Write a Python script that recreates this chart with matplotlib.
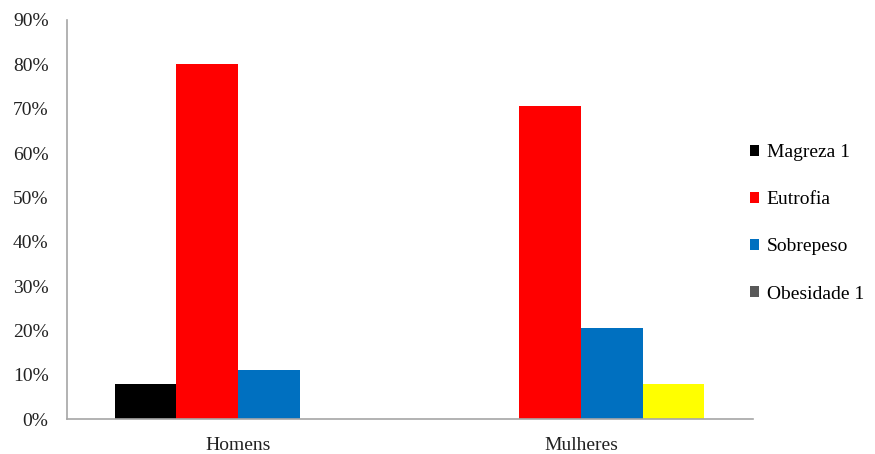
import matplotlib.pyplot as plt
from matplotlib.patches import Patch
from matplotlib.ticker import FuncFormatter
import numpy as np

groups = ['Homens', 'Mulheres']
categories = ['Magreza 1', 'Eutrofia', 'Sobrepeso', 'Obesidade 1']
magreza = [7.9, 0.0]
eutrofia = [80.0, 70.5]
sobrepeso = [11.1, 20.6]
obesidade = [0.0, 7.9]

bar_colors = ['#000000', '#FF0000', '#0070C0', '#FFFF00']
legend_colors = ['#000000', '#FF0000', '#0070C0', '#595959']

plt.rcParams['font.family'] = ['Liberation Serif', 'DejaVu Serif']

fig = plt.figure(figsize=(8.75, 4.54), dpi=100)
ax = fig.add_axes([0.0762, 0.0764, 0.7838, 0.8796])

x = np.arange(len(groups))
width = 0.18
series = [magreza, eutrofia, sobrepeso, obesidade]
for i, values in enumerate(series):
    ax.bar(x + (i - 1.5) * width, values, width, color=bar_colors[i], linewidth=0)

ax.set_xlim(-0.5, 1.5)
ax.set_ylim(0, 90)
ax.set_yticks(np.arange(0, 91, 10))
ax.yaxis.set_major_formatter(FuncFormatter(lambda v, _: f'{int(v)}%'))
ax.set_xticks(x)
ax.set_xticklabels(groups)
ax.tick_params(axis='y', length=0, pad=13, labelsize=14, labelcolor='#222222')
ax.tick_params(axis='x', length=0, pad=12.5, labelsize=14, labelcolor='#222222')

for side in ['top', 'right']:
    ax.spines[side].set_visible(False)
for side in ['left', 'bottom']:
    ax.spines[side].set_color('#A6A6A6')
    ax.spines[side].set_linewidth(1.2)

handles = [Patch(facecolor=c, edgecolor='none') for c in legend_colors]
fig.legend(handles, categories, loc='center left', bbox_to_anchor=(0.857, 0.508),
           frameon=False, fontsize=14, handlelength=0.47, handleheight=0.47,
           handletextpad=0.4, labelspacing=1.55, borderpad=0, borderaxespad=0)

fig.savefig('out.png', dpi=100)
